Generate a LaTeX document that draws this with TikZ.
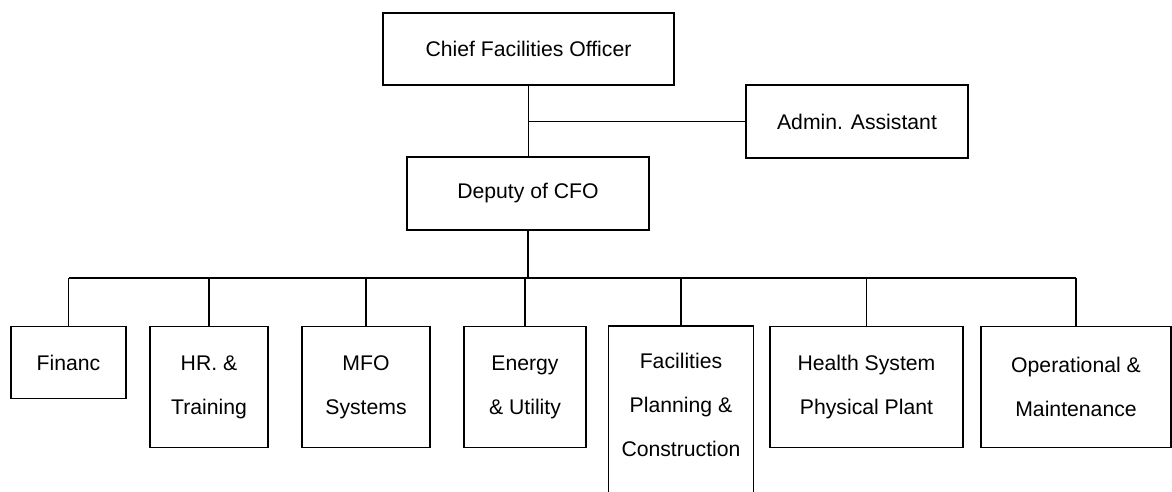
\documentclass[tikz,border=0pt]{standalone}
\usepackage{fontspec}
\setmainfont{Liberation Sans}
\usepackage{tikz}
\usetikzlibrary{positioning}

\begin{document}
\begin{tikzpicture}[x=1pt,y=-1pt,line width=1.4pt,
  orgBox/.style={draw,align=center,inner sep=0pt,font=\fontsize{21.2}{44}\selectfont},
  unitBox/.style={orgBox,anchor=north,minimum height=121pt}]
\clip (0,0) rectangle (1172,491);
\node[orgBox,minimum width=291pt,minimum height=72pt] (cfo) at (528.5,49) {Chief Facilities Officer};
\node[orgBox,minimum width=222pt,minimum height=73pt] (admin) at (857,121.5) {Admin. Assistant};
\node[orgBox,minimum width=242pt,minimum height=73pt] (deputy) at (528,193.5) {Deputy of CFO};
\node[unitBox,minimum width=115pt,minimum height=72pt] (fin) at (68.5,326) {Financ};
\node[unitBox,minimum width=118pt] (hr) at (209,326) {HR. \&\\Training};
\node[unitBox,minimum width=128pt] (mfo) at (366,326) {MFO\\Systems};
\node[unitBox,minimum width=122pt] (energy) at (525,326) {Energy\\\& Utility};
\node[unitBox,minimum width=144pt,minimum height=156pt,draw=none] (fac) at (681,326) {Facilities\\Planning \&\\Construction};
\node[unitBox,minimum width=193pt] (health) at (866.5,326) {Health System\\Physical Plant};
\node[unitBox,minimum width=190pt] (ops) at (1076,326) {Operational \&\\Maintenance};
\draw ([yshift=-40pt]fac.south west) -- (fac.north west) -- (fac.north east) -- ([yshift=-40pt]fac.south east);
\coordinate (adminJoin) at (cfo.south |- admin.west);
\coordinate (bus) at (0,278);
\draw (cfo.south) -- (cfo.south |- deputy.north);
\draw (adminJoin) -- (admin.west);
\draw (deputy.south) -- (deputy.south |- bus);
\draw (fin.north |- bus) -- (ops.north |- bus);
\foreach \unit in {fin,hr,mfo,energy,fac,health,ops}
  \draw (\unit.north) -- (\unit.north |- bus);
\end{tikzpicture}
\end{document}
